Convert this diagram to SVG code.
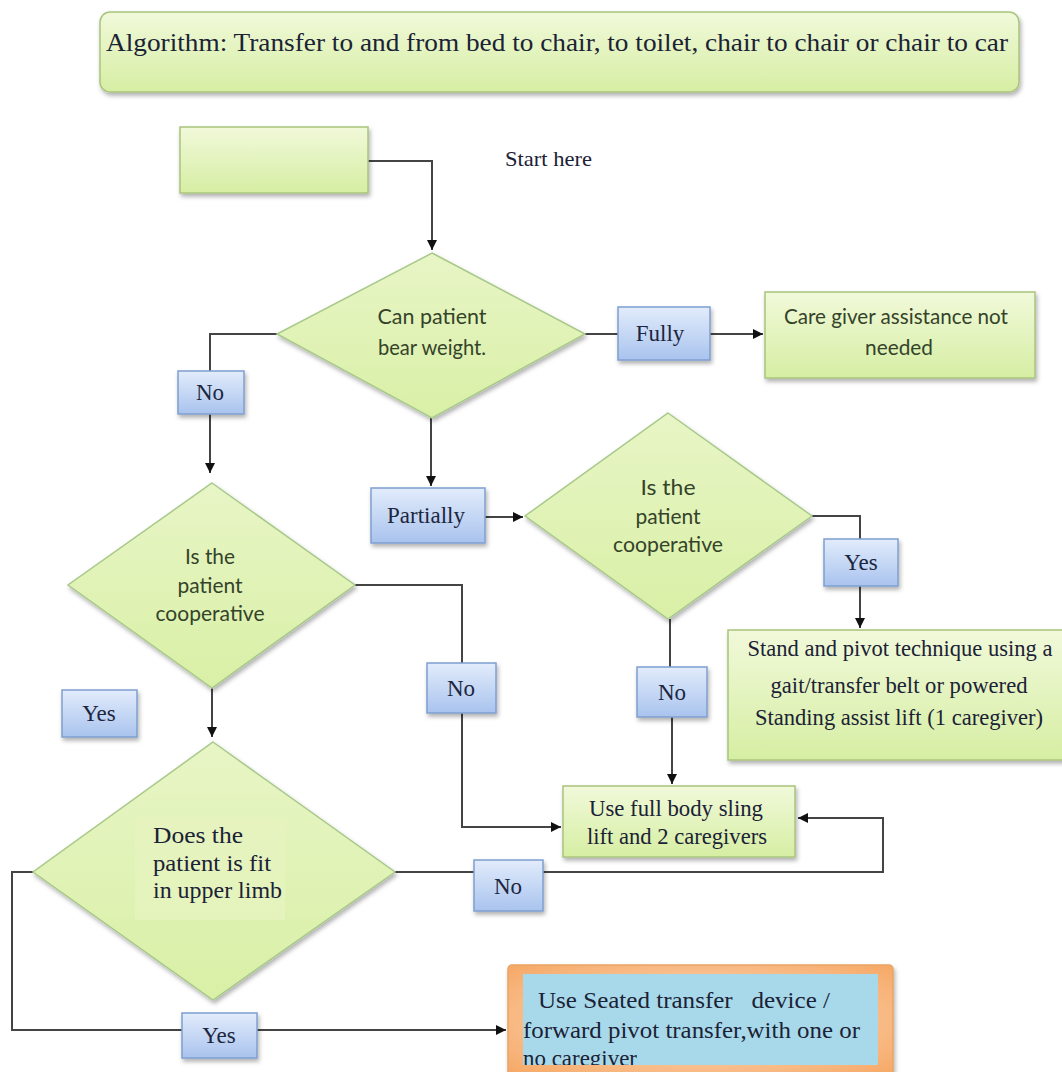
<svg xmlns="http://www.w3.org/2000/svg" width="1062" height="1072" viewBox="0 0 1062 1072">
<style>
.g{fill:url(#gGreen);stroke:#a9c47e;stroke-width:1.5;filter:url(#sh)}
.d{fill:url(#gDia);stroke:#a8c98a;stroke-width:1.5;filter:url(#sh)}
.b{fill:url(#gBlue);stroke:#7f9fcf;stroke-width:1.5;filter:url(#sh)}
.c{fill:none;stroke:#444;stroke-width:2}
.a{marker-end:url(#ah)}
.s{font-family:"Liberation Serif","Times New Roman",serif;fill:#1b2236}
.l{font-family:"Liberation Serif","Times New Roman",serif;font-size:23px;fill:#1c2640;text-anchor:middle}
.k{font-family:Lato,"Noto Sans",sans-serif;font-size:21px;fill:#34432a;text-anchor:middle}
</style>
<defs>
<linearGradient id="gGreen" x1="0" y1="0" x2="0" y2="1"><stop offset="0" stop-color="#f1f9da"/><stop offset="1" stop-color="#d6eea3"/></linearGradient>
<linearGradient id="gDia" x1="0" y1="0" x2="0" y2="1"><stop offset="0" stop-color="#e8f5c6"/><stop offset="1" stop-color="#d9f0a6"/></linearGradient>
<linearGradient id="gBlue" x1="0" y1="0" x2="0" y2="1"><stop offset="0" stop-color="#e2ecfb"/><stop offset="1" stop-color="#a9c3ee"/></linearGradient>
<radialGradient id="gOr" cx="0.5" cy="0.5" r="0.7"><stop offset="0" stop-color="#fde0c8"/><stop offset="1" stop-color="#f6a865"/></radialGradient>
<filter id="sh" x="-10%" y="-10%" width="130%" height="130%"><feDropShadow dx="1.5" dy="3" stdDeviation="2" flood-color="#000" flood-opacity="0.3"/></filter>
<marker id="ah" viewBox="0 0 10 10" refX="10" refY="5" markerWidth="10" markerHeight="10" markerUnits="userSpaceOnUse" orient="auto"><path d="M0,0 L10,5 L0,10 z" fill="#111"/></marker>
<clipPath id="clipSeat"><rect x="523" y="974" width="355" height="91"/></clipPath>
</defs>

<g id="title">
<rect class="g" x="100" y="12" width="919" height="80" rx="10"/>
<text class="s" x="106" y="51" font-size="25" textLength="902" lengthAdjust="spacingAndGlyphs">Algorithm: Transfer to and from bed to chair, to toilet, chair to chair or chair to car</text>
</g>

<g id="connectors">
<path class="c a" d="M368,161 H432 V250"/>
<path class="c" d="M585,334 H618"/>
<path class="c a" d="M710,334 H763"/>
<path class="c" d="M277,334 H210 V371"/>
<path class="c a" d="M210,414 V473"/>
<path class="c a" d="M431,418 V486"/>
<path class="c a" d="M485,517 H523"/>
<path class="c" d="M812,516 H860 V539"/>
<path class="c a" d="M860,586 V628"/>
<path class="c" d="M670,619 V667"/>
<path class="c a" d="M672,717 V784"/>
<path class="c" d="M355,585 H462 V663"/>
<path class="c a" d="M462,713 V827 H561"/>
<path class="c a" d="M212,688 V737"/>
<path class="c" d="M395,872 H474"/>
<path class="c a" d="M543,872 H883 V818 H798"/>
<path class="c" d="M33,872 H12 V1030 H182"/>
<path class="c a" d="M257,1030 H506"/>
</g>

<g id="start">
<rect class="g" x="180" y="127" width="188" height="66"/>
</g>
<g id="start-label">
<text class="s" x="505" y="166" font-size="22" textLength="87" lengthAdjust="spacingAndGlyphs">Start here</text>
</g>

<g id="d1">
<polygon class="d" points="432,253 585,334 432,418 277,334"/>
<text class="k" x="432" y="324" textLength="109" lengthAdjust="spacingAndGlyphs">Can patient</text>
<text class="k" x="432" y="355" textLength="108" lengthAdjust="spacingAndGlyphs">bear weight.</text>
</g>

<g id="lbl-fully">
<rect class="b" x="618" y="307" width="92" height="53"/>
<text class="l" x="660" y="341">Fully</text>
</g>

<g id="care">
<rect class="g" x="765" y="292" width="270" height="86"/>
<text class="k" x="896" y="324" textLength="224" lengthAdjust="spacingAndGlyphs">Care giver assistance not</text>
<text class="k" x="899" y="355" textLength="68" lengthAdjust="spacingAndGlyphs">needed</text>
</g>

<g id="lbl-no1">
<rect class="b" x="178" y="371" width="66" height="43"/>
<text class="l" x="210" y="400">No</text>
</g>

<g id="lbl-partially">
<rect class="b" x="371" y="488" width="114" height="55"/>
<text class="l" x="426" y="523">Partially</text>
</g>

<g id="d2">
<polygon class="d" points="212,483 355,585 212,688 68,585"/>
<text class="k" x="210" y="564" textLength="50" lengthAdjust="spacingAndGlyphs">Is the</text>
<text class="k" x="210" y="593" textLength="65" lengthAdjust="spacingAndGlyphs">patient</text>
<text class="k" x="210" y="621" textLength="109" lengthAdjust="spacingAndGlyphs">cooperative</text>
</g>

<g id="d3">
<polygon class="d" points="668,413 812,516 668,619 525,516"/>
<text class="k" x="668" y="495" textLength="55" lengthAdjust="spacingAndGlyphs">Is the</text>
<text class="k" x="668" y="524" textLength="65" lengthAdjust="spacingAndGlyphs">patient</text>
<text class="k" x="668" y="552" textLength="110" lengthAdjust="spacingAndGlyphs">cooperative</text>
</g>

<g id="lbl-yes1">
<rect class="b" x="824" y="539" width="74" height="47"/>
<text class="l" x="861" y="570">Yes</text>
</g>

<g id="stand">
<rect class="g" x="728" y="630" width="340" height="130"/>
<text class="s" x="900" y="656" font-size="23" text-anchor="middle" textLength="305" lengthAdjust="spacingAndGlyphs">Stand and pivot technique using a</text>
<text class="s" x="899" y="693" font-size="23" text-anchor="middle" textLength="257" lengthAdjust="spacingAndGlyphs">gait/transfer belt or powered</text>
<text class="s" x="899" y="725" font-size="23" text-anchor="middle" textLength="288" lengthAdjust="spacingAndGlyphs">Standing assist lift (1 caregiver)</text>
</g>

<g id="lbl-no2">
<rect class="b" x="427" y="663" width="69" height="50"/>
<text class="l" x="461" y="696">No</text>
</g>

<g id="lbl-no3">
<rect class="b" x="637" y="667" width="70" height="50"/>
<text class="l" x="672" y="700">No</text>
</g>

<g id="lbl-yes-standalone">
<rect class="b" x="62" y="690" width="75" height="47"/>
<text class="l" x="99" y="721">Yes</text>
</g>

<g id="sling">
<rect class="g" x="563" y="786" width="232" height="71"/>
<text class="s" x="676" y="816" font-size="23" text-anchor="middle" textLength="174" lengthAdjust="spacingAndGlyphs">Use full body sling</text>
<text class="s" x="677" y="844" font-size="23" text-anchor="middle" textLength="180" lengthAdjust="spacingAndGlyphs">lift and 2 caregivers</text>
</g>

<g id="d4">
<polygon class="d" points="213,742 395,872 213,1000 33,872"/>
<rect x="135" y="818" width="150" height="102" fill="#e6f2bf" opacity="0.8"/>
<text class="s" x="153" y="843" font-size="24" textLength="90" lengthAdjust="spacingAndGlyphs">Does the</text>
<text class="s" x="153" y="871" font-size="24" textLength="118" lengthAdjust="spacingAndGlyphs">patient is fit</text>
<text class="s" x="153" y="898" font-size="24" textLength="129" lengthAdjust="spacingAndGlyphs">in upper limb</text>
</g>

<g id="lbl-no4">
<rect class="b" x="474" y="860" width="69" height="51"/>
<text class="l" x="508" y="894">No</text>
</g>

<g id="lbl-yes2">
<rect class="b" x="182" y="1013" width="75" height="45"/>
<text class="l" x="219" y="1043">Yes</text>
</g>

<g id="seated">
<rect x="508" y="965" width="385" height="110" rx="4" fill="url(#gOr)" stroke="#e9a466" stroke-width="1.5" filter="url(#sh)"/>
<rect x="523" y="974" width="355" height="91" fill="#a8d9ea"/>
<g clip-path="url(#clipSeat)">
<text class="s" x="538" y="1008" font-size="23" textLength="292" lengthAdjust="spacingAndGlyphs" xml:space="preserve">Use Seated transfer   device /</text>
<text class="s" x="523" y="1038" font-size="23" textLength="337" lengthAdjust="spacingAndGlyphs">forward pivot transfer,with one or</text>
<text class="s" x="523" y="1066" font-size="23" textLength="114" lengthAdjust="spacingAndGlyphs">no caregiver</text>
</g>
</g>
</svg>
